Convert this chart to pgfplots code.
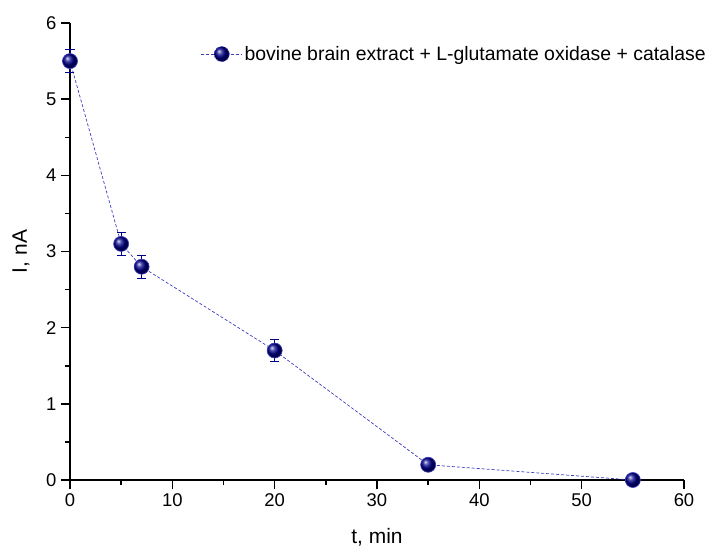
\documentclass[border=0pt]{standalone}
\usepackage{pgfplots}
\pgfplotsset{compat=1.18}
\usepackage{fontspec}
\setmainfont{Liberation Sans}
\definecolor{navy}{RGB}{0,0,139}
\definecolor{dline}{RGB}{60,60,190}
\begin{document}
\begin{tikzpicture}
\begin{axis}[
  scale only axis,
  width=614bp, height=457bp,
  xmin=0, xmax=60, ymin=0, ymax=6,
  axis lines*=left,
  axis line style={line width=1.5bp},
  xtick={0,10,...,60}, ytick={0,1,...,6},
  minor xtick={5,15,...,55}, minor ytick={0.5,1.5,...,5.5},
  tick align=outside,
  major tick length=9bp, minor tick length=5bp,
  tick style={black, line width=1.5bp},
  minor tick style={black, line width=1.5bp},
  tick label style={font=\fontsize{18.5}{21}\selectfont},
  xticklabel style={yshift=-1bp},
  yticklabel style={xshift=-1bp},
  /pgf/number format/assume math mode=true,
  xlabel={t, min}, ylabel={I, nA},
  label style={font=\fontsize{21}{24}\selectfont},
  xlabel style={at={(axis description cs:0.5,-0.140)}, anchor=base},
  ylabel style={at={(axis description cs:-0.0798,0.5)}, anchor=center},
  clip=false,
  legend style={draw=none, fill=none, at={(rel axis cs:1.039,0.932)}, anchor=east,
    font=\fontsize{19.5}{22}\selectfont, legend cell align=left, inner sep=0pt},
  legend image code/.code={
    \draw[dline, densely dashed, line width=0.7pt] (0bp,0bp) -- (41bp,0bp);
    \shade[ball color=navy] (20.5bp,0bp) circle (7.5bp);
  },
]
\addplot[dline, densely dashed, line width=0.7pt,
  mark=ball, mark size=7.5bp,
  mark options={solid, ball color=navy},
  error bars/.cd, y dir=both, y explicit,
  error bar style={navy, solid, line width=0.8pt},
  error mark options={rotate=90, mark size=4.5bp, navy, line width=0.8pt, solid}]
coordinates {
  (0,5.5) +- (0,0.15)
  (5,3.1) +- (0,0.15)
  (7,2.8) +- (0,0.15)
  (20,1.7) +- (0,0.14)
  (35,0.2) +- (0,0.03)
  (55,0.0) +- (0,0.02)
};
\addlegendentry{bovine brain extract + L-glutamate oxidase + catalase}
\coordinate (O) at (rel axis cs:0,0);
\end{axis}
\pgfresetboundingbox
\path[use as bounding box] ([shift={(-70bp,-67bp)}]O) rectangle ([shift={(641bp,480bp)}]O);
\end{tikzpicture}
\end{document}
